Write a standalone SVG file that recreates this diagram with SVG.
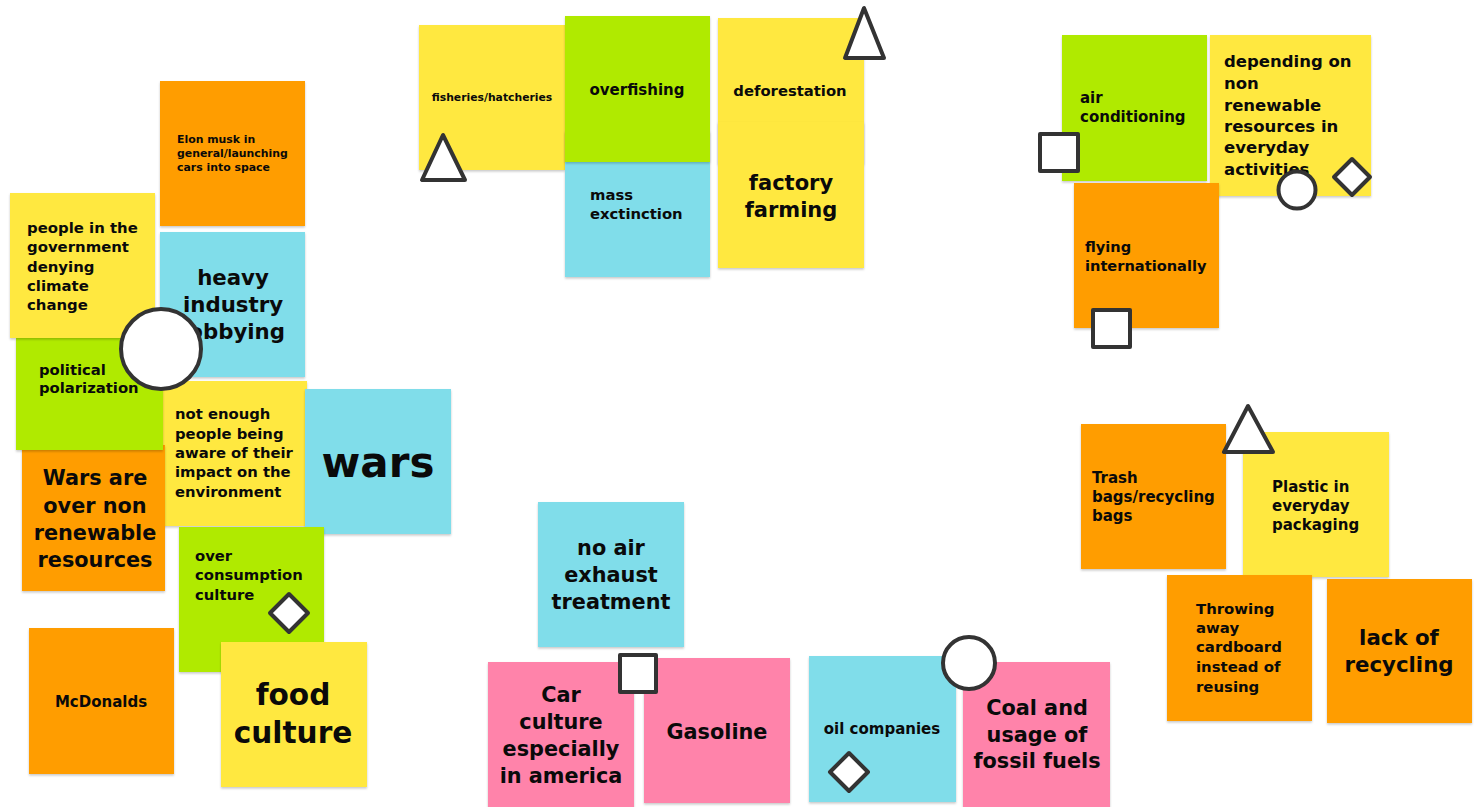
<svg xmlns="http://www.w3.org/2000/svg" width="1476" height="807" viewBox="0 0 1476 807">
<defs>
<filter id="sh" x="-5%" y="-5%" width="110%" height="115%">
<feDropShadow dx="0" dy="1.5" stdDeviation="1.2" flood-color="#000" flood-opacity="0.22"/>
</filter>
<style>
.n{filter:url(#sh);}
.y{fill:#FFE83F;}
.g{fill:#B0EA00;}
.b{fill:#80DDEA;}
.o{fill:#FF9D00;}
.p{fill:#FF83AA;}
text{font-family:"DejaVu Sans","Open Sans",sans-serif;font-weight:700;fill:#0a0a0a;}
.c{text-anchor:middle;}
.m{fill:#fff;stroke:#333;stroke-width:4;stroke-linejoin:round;}
</style>
</defs>
<rect width="1476" height="807" fill="#fff"/>

<!-- top middle cluster -->
<g id="fisheries"><rect class="n y" x="419" y="25" width="146" height="145"/>
<text class="c" x="492" y="101" font-size="10.8">fisheries/hatcheries</text></g>
<g id="mass-extinction"><rect class="n b" x="565" y="131" width="145" height="146"/>
<text x="590" y="200" font-size="14.8">mass</text><text x="590" y="219" font-size="14.8">exctinction</text></g>
<g id="overfishing"><rect class="n g" x="565" y="16" width="145" height="146"/>
<text class="c" x="637" y="95" font-size="15">overfishing</text></g>
<g id="deforestation"><rect class="n y" x="718" y="18" width="146" height="146"/>
<text class="c" x="790" y="96" font-size="14.8">deforestation</text></g>
<g id="factory-farming"><rect class="n y" x="718" y="122" width="146" height="146"/>
<text class="c" x="791" y="190" font-size="21">factory</text><text class="c" x="791" y="217" font-size="21">farming</text></g>

<!-- left cluster -->
<g id="elon"><rect class="n o" x="160" y="81" width="145" height="145"/>
<text x="177" y="143" font-size="10.9">Elon musk in</text><text x="177" y="157" font-size="10.9">general/launching</text><text x="177" y="171" font-size="10.9">cars into space</text></g>
<g id="heavy-industry"><rect class="n b" x="160" y="232" width="145" height="145"/>
<text class="c" x="233" y="285" font-size="21.3">heavy</text><text class="c" x="233" y="312" font-size="21.3">industry</text><text class="c" x="233" y="339" font-size="21.3">lobbying</text></g>
<g id="not-enough"><rect class="n y" x="163" y="381" width="144" height="145"/>
<text x="175" y="419" font-size="14.8">not enough</text><text x="175" y="439" font-size="14.8">people being</text><text x="175" y="458" font-size="14.8">aware of their</text><text x="175" y="477" font-size="14.8">impact on the</text><text x="175" y="497" font-size="14.8">environment</text></g>
<g id="wars-over"><rect class="n o" x="22" y="445" width="143" height="146"/>
<text class="c" x="95" y="485" font-size="20.8">Wars are</text><text class="c" x="95" y="513" font-size="20.8">over non</text><text class="c" x="95" y="540" font-size="20.8">renewable</text><text class="c" x="95" y="567" font-size="20.8">resources</text></g>
<g id="polarization"><rect class="n g" x="16" y="338" width="147" height="112"/>
<text x="39" y="375" font-size="14.8">political</text><text x="39" y="393" font-size="14.8">polarization</text></g>
<g id="people-government"><rect class="n y" x="10" y="193" width="145" height="145"/>
<text x="27" y="233" font-size="14.9">people in the</text><text x="27" y="252" font-size="14.9">government</text><text x="27" y="272" font-size="14.9">denying</text><text x="27" y="291" font-size="14.9">climate</text><text x="27" y="310" font-size="14.9">change</text></g>
<g id="wars"><rect class="n b" x="305" y="389" width="146" height="145"/>
<text class="c" x="378" y="477" font-size="42">wars</text></g>
<g id="over-consumption"><rect class="n g" x="179" y="527" width="145" height="145"/>
<text x="195" y="561" font-size="14.8">over</text><text x="195" y="580" font-size="14.8">consumption</text><text x="195" y="600" font-size="14.8">culture</text></g>
<g id="mcdonalds"><rect class="n o" x="29" y="628" width="145" height="146"/>
<text class="c" x="101" y="707" font-size="15">McDonalds</text></g>
<g id="food-culture"><rect class="n y" x="221" y="642" width="146" height="145"/>
<text class="c" x="293" y="705" font-size="29.6">food</text><text class="c" x="293" y="743" font-size="29.6">culture</text></g>

<!-- top right cluster -->
<g id="air-conditioning"><rect class="n g" x="1062" y="35" width="145" height="146"/>
<text x="1080" y="103" font-size="15">air</text><text x="1080" y="122" font-size="15">conditioning</text></g>
<g id="depending"><rect class="n y" x="1210" y="35" width="161" height="161"/>
<text x="1224" y="67" font-size="16.5">depending on</text><text x="1224" y="89" font-size="16.5">non</text><text x="1224" y="111" font-size="16.5">renewable</text><text x="1224" y="132" font-size="16.5">resources in</text><text x="1224" y="153" font-size="16.5">everyday</text><text x="1224" y="175" font-size="16.5">activities</text></g>
<g id="flying"><rect class="n o" x="1074" y="183" width="145" height="145"/>
<text x="1085" y="252" font-size="14.6">flying</text><text x="1085" y="271" font-size="14.6">internationally</text></g>

<!-- bottom right cluster -->
<g id="trash-bags"><rect class="n o" x="1081" y="424" width="145" height="145"/>
<text x="1092" y="483" font-size="15">Trash</text><text x="1092" y="502" font-size="15">bags/recycling</text><text x="1092" y="521" font-size="15">bags</text></g>
<g id="plastic"><rect class="n y" x="1243" y="432" width="146" height="145"/>
<text x="1272" y="492" font-size="15">Plastic in</text><text x="1272" y="511" font-size="15">everyday</text><text x="1272" y="530" font-size="15">packaging</text></g>
<g id="throwing-away"><rect class="n o" x="1167" y="575" width="145" height="146"/>
<text x="1196" y="614" font-size="14.9">Throwing</text><text x="1196" y="633" font-size="14.9">away</text><text x="1196" y="652" font-size="14.9">cardboard</text><text x="1196" y="672" font-size="14.9">instead of</text><text x="1196" y="692" font-size="14.9">reusing</text></g>
<g id="lack-of-recycling"><rect class="n o" x="1327" y="579" width="145" height="144"/>
<text class="c" x="1399" y="645" font-size="21.3">lack of</text><text class="c" x="1399" y="672" font-size="21.3">recycling</text></g>

<!-- bottom middle cluster -->
<g id="no-air-exhaust"><rect class="n b" x="538" y="502" width="146" height="145"/>
<text class="c" x="611" y="555" font-size="20.8">no air</text><text class="c" x="611" y="582" font-size="20.8">exhaust</text><text class="c" x="611" y="609" font-size="20.8">treatment</text></g>
<g id="car-culture"><rect class="n p" x="488" y="662" width="146" height="146"/>
<text class="c" x="561" y="702" font-size="20.8">Car</text><text class="c" x="561" y="729" font-size="20.8">culture</text><text class="c" x="561" y="756" font-size="20.8">especially</text><text class="c" x="561" y="783" font-size="20.8">in america</text></g>
<g id="gasoline"><rect class="n p" x="644" y="658" width="146" height="145"/>
<text class="c" x="717" y="739" font-size="20.8">Gasoline</text></g>
<g id="oil-companies"><rect class="n b" x="809" y="656" width="147" height="146"/>
<text class="c" x="882" y="734" font-size="15">oil companies</text></g>
<g id="coal"><rect class="n p" x="963" y="662" width="147" height="146"/>
<text class="c" x="1037" y="715" font-size="20.8">Coal and</text><text class="c" x="1037" y="742" font-size="20.8">usage of</text><text class="c" x="1037" y="768" font-size="20.8">fossil fuels</text></g>

<!-- marks -->
<g id="marks">
<polygon class="m" points="864,8 845,58 884,58"/>
<polygon class="m" points="443,135 422,180 465,180"/>
<circle class="m" cx="161" cy="349" r="40"/>
<path class="m" d="M289,594 L308,613 L289,632 L270,613 Z"/>
<rect class="m" x="1040" y="134" width="38" height="37"/>
<rect class="m" x="1093" y="310" width="37" height="37"/>
<circle class="m" cx="1297" cy="190" r="18.5"/>
<path class="m" d="M1352,159 L1370,177 L1352,195 L1334,177 Z"/>
<polygon class="m" points="1248,406 1224,452 1273,452"/>
<rect class="m" x="620" y="655" width="36" height="37"/>
<path class="m" d="M849,753 L868,772 L849,791 L830,772 Z"/>
<circle class="m" cx="969" cy="663" r="26"/>
</g>
</svg>
